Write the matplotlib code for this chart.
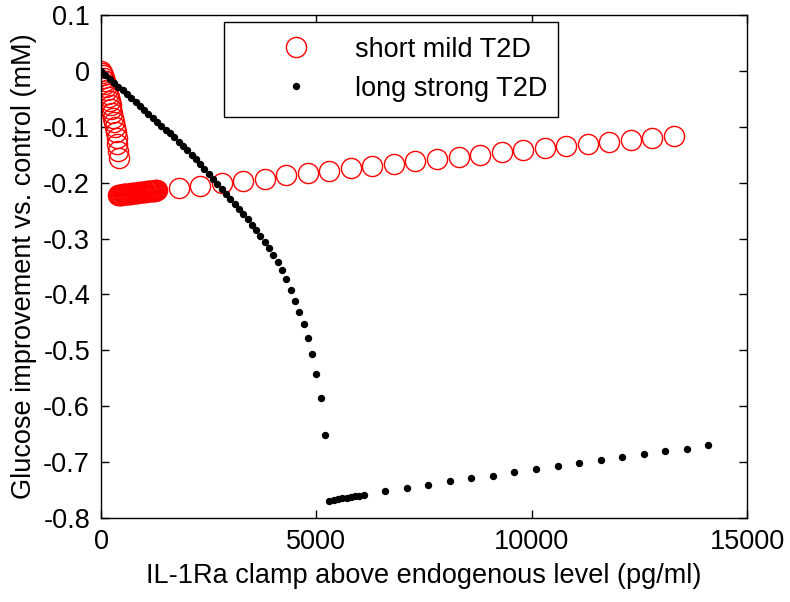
import matplotlib
matplotlib.use("Agg")
import matplotlib.pyplot as plt

plt.rcParams['font.family'] = ['Liberation Sans', 'DejaVu Sans']
plt.rcParams['axes.unicode_minus'] = False

# short mild T2D (red open circles)
mild_x = [0, 20, 40, 60, 80, 100, 120, 140, 160, 180, 200, 220, 240, 260, 280,
          300, 320, 340, 360, 380, 400, 420,
          400, 420, 440, 460, 480, 500, 520, 540, 560, 580, 600, 620, 640, 660,
          680, 700, 720, 740, 760, 780, 800, 820, 840, 860, 880, 900, 920, 940,
          960, 980, 1000, 1020, 1040, 1060, 1080, 1100, 1120, 1140, 1160, 1180,
          1200, 1220, 1240, 1260, 1280, 1300,
          1800, 2300, 2800, 3300, 3800, 4300, 4800, 5300, 5800, 6300, 6800, 7300,
          7800, 8300, 8800, 9300, 9800, 10300, 10800, 11300, 11800, 12300, 12800, 13300]
mild_y = [0.0, -0.004, -0.008, -0.013, -0.018, -0.023, -0.029, -0.035, -0.041, -0.047,
          -0.054, -0.061, -0.068, -0.076, -0.084, -0.092, -0.101, -0.110, -0.120,
          -0.131, -0.143, -0.156,
          -0.2220, -0.2218, -0.2216, -0.2214, -0.2212, -0.2211, -0.2209, -0.2207,
          -0.2205, -0.2203, -0.2201, -0.2199, -0.2197, -0.2195, -0.2194, -0.2192,
          -0.2190, -0.2188, -0.2186, -0.2184, -0.2182, -0.2180, -0.2178, -0.2176,
          -0.2175, -0.2173, -0.2171, -0.2169, -0.2167, -0.2165, -0.2163, -0.2161,
          -0.2159, -0.2158, -0.2156, -0.2154, -0.2152, -0.2150, -0.2148, -0.2146,
          -0.2144, -0.2142, -0.2141, -0.2139, -0.2137, -0.2135,
          -0.210, -0.206, -0.201, -0.197, -0.193, -0.187, -0.183, -0.179, -0.174,
          -0.170, -0.166, -0.162, -0.158, -0.154, -0.150, -0.146, -0.142, -0.138,
          -0.134, -0.131, -0.127, -0.123, -0.120, -0.116]

# long strong T2D (black dots)
strong_x = [0, 100, 200, 300, 400, 500, 600, 700, 800, 900, 1000, 1100, 1200, 1300,
            1400, 1500, 1600, 1700, 1800, 1900, 2000, 2100, 2200, 2300, 2400, 2500,
            2600, 2700, 2800, 2900, 3000, 3100, 3200, 3300, 3400, 3500, 3600, 3700,
            3800, 3900, 4000, 4100, 4200, 4300, 4400, 4500, 4600, 4700, 4800, 4900,
            5000, 5100, 5200,
            5300, 5400, 5500, 5600, 5700, 5800, 5900, 6000, 6100,
            6600, 7100, 7600, 8100, 8600, 9100, 9600, 10100, 10600, 11100, 11600,
            12100, 12600, 13100, 13600, 14100]
strong_y = [0.0, -0.007, -0.014, -0.021, -0.028, -0.035, -0.042, -0.049, -0.056, -0.063,
            -0.070, -0.077, -0.084, -0.091, -0.098, -0.105, -0.112, -0.119, -0.127,
            -0.134, -0.142, -0.150, -0.158, -0.166, -0.175, -0.184, -0.193, -0.202,
            -0.211, -0.220, -0.229, -0.238, -0.247, -0.256, -0.265, -0.275, -0.285,
            -0.295, -0.306, -0.317, -0.329, -0.342, -0.356, -0.373, -0.392, -0.411,
            -0.431, -0.453, -0.478, -0.507, -0.543, -0.586, -0.652,
            -0.769, -0.768, -0.766, -0.765, -0.764, -0.762, -0.761, -0.760, -0.759,
            -0.752, -0.747, -0.741, -0.734, -0.729, -0.724, -0.718, -0.712, -0.707,
            -0.701, -0.696, -0.691, -0.685, -0.680, -0.676, -0.670]

xticks = [0, 5000, 10000, 15000]
xtick_labels = ['0', '5000', '10000', '15000']
yticks = [0.1, 0, -0.1, -0.2, -0.3, -0.4, -0.5, -0.6, -0.7, -0.8]
ytick_labels = ['0.1', '0', '-0.1', '-0.2', '-0.3', '-0.4', '-0.5', '-0.6', '-0.7', '-0.8']

fs = 19.5

fig = plt.figure(figsize=(7.9, 6.02), dpi=100)
ax = fig.add_axes([0.128, 0.1395, 0.8176, 0.8356])

ax.plot(mild_x, mild_y, 'o', ms=14.5, mfc='none', mec='red', mew=1.0,
        label='short mild T2D')
ax.plot(strong_x, strong_y, 'o', ms=4.3, mfc='black', mec='black',
        label='long strong T2D')

ax.set_xlim(0, 15000)
ax.set_ylim(-0.8, 0.1)
ax.set_xticks(xticks)
ax.set_xticklabels(xtick_labels)
ax.set_yticks(yticks)
ax.set_yticklabels(ytick_labels)
ax.tick_params(direction='in', top=True, right=True, length=6, width=1,
               labelsize=fs, pad=8)
for s in ax.spines.values():
    s.set_linewidth(1)

ax.set_xlabel('IL-1Ra clamp above endogenous level (pg/ml)', fontsize=fs, labelpad=6)
ax.set_ylabel('Glucose improvement vs. control (mM)', fontsize=fs, labelpad=4)

leg = ax.legend(loc='upper left', bbox_to_anchor=(0.19, 0.986, 0.517, 0.0),
                mode='expand', borderaxespad=0, fontsize=fs,
                frameon=True, fancybox=False, edgecolor='black', framealpha=1,
                handlelength=4.2, handletextpad=0.1, borderpad=0.55,
                labelspacing=0.48)
leg.get_frame().set_linewidth(1)

fig.savefig('out.png', dpi=100)
